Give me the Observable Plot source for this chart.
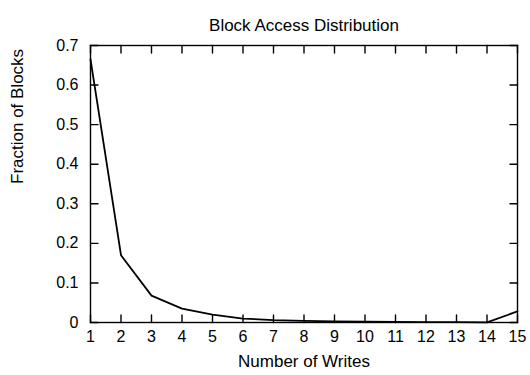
<!DOCTYPE html>
<html>
<head>
<meta charset="utf-8">
<script src="https://cdn.jsdelivr.net/npm/d3@7"></script>
<script src="https://cdn.jsdelivr.net/npm/@observablehq/plot@0.6"></script>
<style>
  html, body { margin: 0; padding: 0; background: #fff; }
  svg { display: block; }
</style>
</head>
<body>
<div id="chart"></div>
<script>
const writes = [1, 2, 3, 4, 5, 6, 7, 8, 9, 10, 11, 12, 13, 14, 15];
const fraction = [0.665, 0.17, 0.068, 0.035, 0.02, 0.01, 0.006, 0.004, 0.003, 0.002, 0.0015, 0.001, 0.001, 0.0005, 0.028];
const xTicks = [1, 2, 3, 4, 5, 6, 7, 8, 9, 10, 11, 12, 13, 14, 15];
const yTicks = [0, 0.1, 0.2, 0.3, 0.4, 0.5, 0.6, 0.7];
const title = "Block Access Distribution";
const xLabel = "Number of Writes";
const yLabel = "Fraction of Blocks";

const data = writes.map((w, i) => ({w, f: fraction[i]}));
const font = "Liberation Sans, Arial, Helvetica, sans-serif";
// plain straight tick shape (no arrowhead)
const tickShape = {draw(context, l) { context.moveTo(0, 0); context.lineTo(0, -l); }};
const tickOpts = {length: 7.5, anchor: "start", shape: tickShape, stroke: "#000", strokeWidth: 1.4};

const chart = Plot.plot({
  width: 530,
  height: 375,
  marginTop: 45,
  marginBottom: 53,
  marginLeft: 90,
  marginRight: 13,
  style: {fontFamily: font, fontSize: "16px", color: "#000", background: "#fff"},
  x: {domain: [1, 15], ticks: xTicks, axis: null},
  y: {domain: [0, 0.7], ticks: yTicks, axis: null},
  marks: [
    Plot.frame({stroke: "#000", strokeWidth: 1.4}),
    // inward tick marks on all four sides
    Plot.vector(xTicks, {x: (d) => d, frameAnchor: "bottom", rotate: 0, ...tickOpts}),
    Plot.vector(xTicks, {x: (d) => d, frameAnchor: "top", rotate: 180, ...tickOpts}),
    Plot.vector(yTicks, {y: (d) => d, frameAnchor: "left", rotate: 90, ...tickOpts}),
    Plot.vector(yTicks, {y: (d) => d, frameAnchor: "right", rotate: -90, ...tickOpts}),
    // tick labels
    Plot.axisX(xTicks, {anchor: "bottom", tickSize: 0, tickPadding: 8, label: null, fontSize: 16, fill: "#000"}),
    Plot.axisY(yTicks, {anchor: "left", tickSize: 0, tickPadding: 12, label: null, fontSize: 16, fill: "#000", tickFormat: d3.format("~g")}),
    Plot.line(data, {x: "w", y: "f", stroke: "#000", strokeWidth: 1.8}),
    Plot.text([title], {frameAnchor: "top", dy: -27, fontSize: 17, fill: "#000"}),
    Plot.text([xLabel], {frameAnchor: "bottom", dy: 44, fontSize: 17, fill: "#000"}),
    Plot.text([yLabel], {frameAnchor: "left", dx: -73, rotate: -90, fontSize: 17, fill: "#000"})
  ]
});
document.getElementById("chart").appendChild(chart);
</script>
</body>
</html>
